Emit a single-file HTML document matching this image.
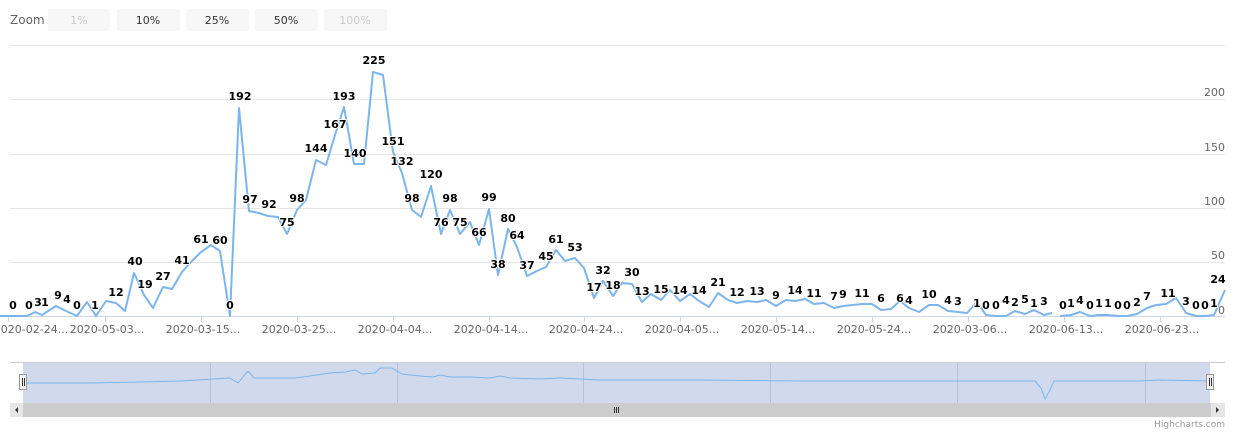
<!DOCTYPE html>
<html><head><meta charset="utf-8"><style>
body{margin:0;background:#fff;}
svg{display:block;font-family:"DejaVu Sans","Liberation Sans",sans-serif;}
.dl{font-size:11px;font-weight:bold;fill:#000;stroke:#fff;stroke-width:2px;paint-order:stroke;stroke-linejoin:round;text-anchor:middle;}
.xl{font-size:11px;fill:#666;text-anchor:middle;}
.yl{font-size:11px;fill:#666;text-anchor:end;}
.bt{font-size:11px;text-anchor:middle;}
</style></head><body>
<svg width="1235" height="432" viewBox="0 0 1235 432">
<rect width="1235" height="432" fill="#fff"/>
<text x="10" y="24" font-size="12" fill="#666">Zoom</text>
<rect x="48" y="9" width="62" height="22" rx="2" fill="#f7f7f7"/><text class="bt" x="79" y="24" fill="#ccc">1%</text>
<rect x="117" y="9" width="63" height="22" rx="2" fill="#f7f7f7"/><text class="bt" x="148" y="24" fill="#333">10%</text>
<rect x="186" y="9" width="63" height="22" rx="2" fill="#f7f7f7"/><text class="bt" x="217" y="24" fill="#333">25%</text>
<rect x="255" y="9" width="63" height="22" rx="2" fill="#f7f7f7"/><text class="bt" x="286" y="24" fill="#333">50%</text>
<rect x="324" y="9" width="63" height="22" rx="2" fill="#f7f7f7"/><text class="bt" x="355" y="24" fill="#ccc">100%</text>
<g stroke="#e6e6e6" stroke-width="1">
<line x1="10" y1="45.5" x2="1225" y2="45.5"/><line x1="10" y1="99.5" x2="1225" y2="99.5"/>
<line x1="10" y1="154.5" x2="1225" y2="154.5"/><line x1="10" y1="208.5" x2="1225" y2="208.5"/>
<line x1="10" y1="262.5" x2="1225" y2="262.5"/>
</g>
<line x1="0" y1="316.5" x2="1225" y2="316.5" stroke="#ccd6eb"/>
<g stroke="#ccd6eb"><line x1="8.5" y1="316" x2="8.5" y2="322"/><line x1="105.5" y1="316" x2="105.5" y2="322"/><line x1="201.5" y1="316" x2="201.5" y2="322"/><line x1="297.5" y1="316" x2="297.5" y2="322"/><line x1="393.5" y1="316" x2="393.5" y2="322"/><line x1="489.5" y1="316" x2="489.5" y2="322"/><line x1="584.5" y1="316" x2="584.5" y2="322"/><line x1="680.5" y1="316" x2="680.5" y2="322"/><line x1="776.5" y1="316" x2="776.5" y2="322"/><line x1="872.5" y1="316" x2="872.5" y2="322"/><line x1="968.5" y1="316" x2="968.5" y2="322"/><line x1="1064.5" y1="316" x2="1064.5" y2="322"/><line x1="1160.5" y1="316" x2="1160.5" y2="322"/></g>
<text class="yl" x="1225" y="96">200</text><text class="yl" x="1225" y="151">150</text><text class="yl" x="1225" y="205">100</text><text class="yl" x="1225" y="259">50</text><text class="yl" x="1225" y="314">0</text>
<text class="xl" x="31" y="333">2020-02-24...</text><text class="xl" x="107" y="333">2020-05-03...</text><text class="xl" x="203" y="333">2020-03-15...</text><text class="xl" x="299" y="333">2020-03-25...</text><text class="xl" x="395" y="333">2020-04-04...</text><text class="xl" x="491" y="333">2020-04-14...</text><text class="xl" x="586" y="333">2020-04-24...</text><text class="xl" x="682" y="333">2020-04-05...</text><text class="xl" x="778" y="333">2020-05-14...</text><text class="xl" x="874" y="333">2020-05-24...</text><text class="xl" x="970" y="333">2020-03-06...</text><text class="xl" x="1066" y="333">2020-06-13...</text><text class="xl" x="1162" y="333">2020-06-23...</text>
<polyline fill="none" stroke="#7cb5ec" stroke-width="2" stroke-linejoin="round" points="0,316 27,316 35,312 42,315 56,306 66,311 77,316 87,302 96,316 106,301 116,303 125,311 134,273 144,295 153,308 163,287 172,289 182,272 191,262 201,252 211,245 220,251 230,316 239,108 249,211 259,213 268,216 278,217 287,234 297,210 306,200 316,160 326,165 335,135 344,107 354,164 364,164 373,72 383,75 393,152 402,173 412,210 421,217 431,186 441,234 450,210 460,234 470,222 479,245 489,209 498,275 508,229 517,247 527,276 537,271 546,267 556,250 565,261 575,258 584,268 594,298 603,281 613,296 622,283 632,284 642,302 651,294 661,300 670,290 680,301 690,294 699,301 709,307 718,293 728,300 737,303 747,301 757,302 766,300 776,306 786,300 795,301 805,299 814,304 824,303 834,308 843,306 853,305 862,304 872,304 881,310 891,309 900,301 909,308 919,312 929,305 938,305 948,311 958,312 967,313 977,302 986,315 996,316 1006,316 1015,311 1025,314 1034,310 1044,315 1052,313"/>
<polyline fill="none" stroke="#7cb5ec" stroke-width="2" stroke-linejoin="round" points="1060,316 1071,315 1080,312 1090,316 1099,315 1108,315 1118,316 1127,316 1137,314 1147,308 1156,305 1166,304 1176,298 1186,313 1196,316 1205,316 1214,315 1225,290"/>
<g class="dl">
<text x="13" y="309">0</text><text x="29" y="309">0</text><text x="38" y="306">3</text><text x="45" y="306">1</text><text x="58" y="299">9</text><text x="67" y="303">4</text><text x="77" y="309">0</text><text x="95" y="309">1</text><text x="116" y="296">12</text><text x="135" y="265">40</text><text x="145" y="288">19</text><text x="163" y="280">27</text><text x="182" y="264">41</text><text x="201" y="243">61</text><text x="220" y="244">60</text><text x="230" y="309">0</text><text x="240" y="100">192</text><text x="250" y="203">97</text><text x="269" y="208">92</text><text x="287" y="226">75</text><text x="297" y="202">98</text><text x="316" y="152">144</text><text x="335" y="128">167</text><text x="344" y="100">193</text><text x="355" y="157">140</text><text x="374" y="64">225</text><text x="393" y="145">151</text><text x="402" y="165">132</text><text x="412" y="202">98</text><text x="431" y="178">120</text><text x="441" y="226">76</text><text x="450" y="202">98</text><text x="460" y="226">75</text><text x="479" y="236">66</text><text x="489" y="201">99</text><text x="498" y="268">38</text><text x="508" y="222">80</text><text x="517" y="239">64</text><text x="527" y="269">37</text><text x="546" y="260">45</text><text x="556" y="243">61</text><text x="575" y="251">53</text><text x="594" y="291">17</text><text x="603" y="274">32</text><text x="613" y="289">18</text><text x="632" y="276">30</text><text x="642" y="295">13</text><text x="661" y="293">15</text><text x="680" y="294">14</text><text x="699" y="294">14</text><text x="718" y="286">21</text><text x="737" y="296">12</text><text x="757" y="295">13</text><text x="776" y="299">9</text><text x="795" y="294">14</text><text x="814" y="297">11</text><text x="834" y="300">7</text><text x="843" y="298">9</text><text x="862" y="297">11</text><text x="881" y="302">6</text><text x="900" y="302">6</text><text x="909" y="304">4</text><text x="929" y="298">10</text><text x="948" y="304">4</text><text x="958" y="305">3</text><text x="977" y="307">1</text><text x="986" y="309">0</text><text x="996" y="309">0</text><text x="1006" y="304">4</text><text x="1015" y="306">2</text><text x="1025" y="303">5</text><text x="1034" y="307">1</text><text x="1044" y="305">3</text><text x="1063" y="309">0</text><text x="1071" y="307">1</text><text x="1080" y="304">4</text><text x="1090" y="309">0</text><text x="1099" y="307">1</text><text x="1108" y="307">1</text><text x="1118" y="309">0</text><text x="1127" y="309">0</text><text x="1137" y="306">2</text><text x="1147" y="300">7</text><text x="1168" y="297">11</text><text x="1186" y="305">3</text><text x="1196" y="309">0</text><text x="1205" y="309">0</text><text x="1214" y="307">1</text><text x="1218" y="283">24</text>
</g>
<!-- navigator -->
<line x1="10" y1="362.5" x2="1225" y2="362.5" stroke="#cccccc"/>
<rect x="23" y="363" width="1187" height="40" fill="#ccd6eb" fill-opacity="0.9"/>
<g stroke="#b8c2d8"><line x1="210.5" y1="363" x2="210.5" y2="403"/><line x1="397.5" y1="363" x2="397.5" y2="403"/><line x1="583.5" y1="363" x2="583.5" y2="403"/><line x1="770.5" y1="363" x2="770.5" y2="403"/><line x1="957.5" y1="363" x2="957.5" y2="403"/><line x1="1145.5" y1="363" x2="1145.5" y2="403"/></g>
<path fill="none" stroke="#7cb5ec" stroke-width="1" d="M23,383 L90,383 L140,382 L180,381 L230,378 L238,383 L243,377 L248,371 L254,378 L295,378 L310,376 L330,373 L345,372 L355,370 L362,374 L375,373 L380,368 L392,368 L402,374 L420,376 L433,377 L440,375 L450,377 L470,377 L490,378 L500,376 L510,378 L540,379 L560,378 L600,380 L700,380 L800,381 L960,381 L1035,381 L1041,388 L1045,399 L1050,390 L1054,381 L1140,381 L1160,380 L1210,381"/>
<rect x="19.5" y="374.5" width="7" height="15" fill="#f2f2f2" stroke="#999"/><line x1="22.5" y1="378" x2="22.5" y2="386" stroke="#333"/><line x1="24.5" y1="378" x2="24.5" y2="386" stroke="#333"/>
<rect x="1206.5" y="374.5" width="7" height="15" fill="#f2f2f2" stroke="#999"/><line x1="1209.5" y1="378" x2="1209.5" y2="386" stroke="#333"/><line x1="1211.5" y1="378" x2="1211.5" y2="386" stroke="#333"/>
<rect x="10" y="403" width="1215" height="14" fill="#cccccc"/>
<rect x="10" y="403" width="13" height="14" fill="#e6e6e6"/><path d="M18,407 L15,410 L18,413Z" fill="#333"/>
<rect x="1211" y="403" width="14" height="14" fill="#e6e6e6"/><path d="M1216,407 L1219,410 L1216,413Z" fill="#333"/>
<g stroke="#333"><line x1="614.5" y1="407" x2="614.5" y2="413"/><line x1="616.5" y1="407" x2="616.5" y2="413"/><line x1="618.5" y1="407" x2="618.5" y2="413"/></g>
<text x="1225" y="427" font-size="9" fill="#999" text-anchor="end">Highcharts.com</text>
</svg>
</body></html>
